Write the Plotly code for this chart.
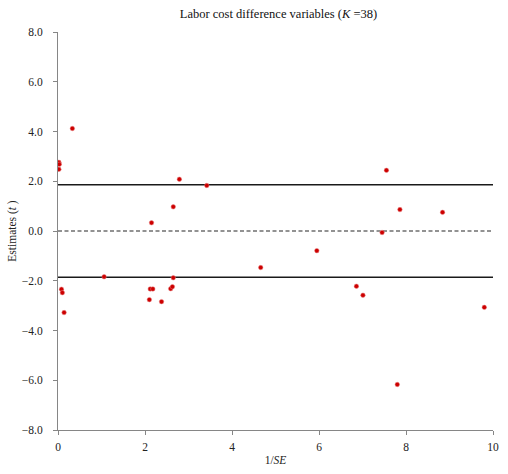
import plotly.graph_objects as go

# Data
inv_se = [0.33, 0.02, 0.03, 0.02, 0.08, 0.10, 0.14,
          2.79, 3.42, 2.65, 2.15, 1.06, 2.65, 2.12, 2.18, 2.59, 2.63, 2.10, 2.38,
          7.55, 7.86, 8.84, 7.45, 5.95, 4.66, 6.86, 7.01, 9.80, 7.80]
estimates = [4.12, 2.76, 2.68, 2.48, -2.34, -2.48, -3.28,
             2.08, 1.83, 0.97, 0.33, -1.84, -1.88, -2.33, -2.33, -2.32, -2.24, -2.76, -2.84,
             2.44, 0.86, 0.75, -0.06, -0.79, -1.47, -2.22, -2.58, -3.07, -6.17]
crit_value = 1.86
x_span = [0, 10]

title_text = "Labor cost difference variables (<i>K </i>=38)"
x_title = "1/<i>SE</i>"
y_title = "Estimates (<i>t </i>)"

font_family = "Liberation Serif, Times New Roman, serif"

fig = go.Figure()
fig.add_trace(go.Scatter(x=x_span, y=[crit_value, crit_value], mode="lines",
                         line=dict(color="#1a1a1a", width=1.5), hoverinfo="skip"))
fig.add_trace(go.Scatter(x=x_span, y=[-crit_value, -crit_value], mode="lines",
                         line=dict(color="#1a1a1a", width=1.5), hoverinfo="skip"))
fig.add_trace(go.Scatter(x=x_span, y=[0, 0], mode="lines",
                         line=dict(color="#6f6f6f", width=1.5, dash="4px,2.5px"), hoverinfo="skip"))
fig.add_trace(go.Scatter(x=inv_se, y=estimates, mode="markers",
                         marker=dict(color="#cc0000", size=4.5,
                                     line=dict(width=0.5, color="#e88080"))))

fig.update_layout(
    width=508, height=474,
    margin=dict(l=58, r=9, t=32, b=42),
    paper_bgcolor="white", plot_bgcolor="white",
    showlegend=False,
    font=dict(family=font_family, size=11.5, color="#222222"),
    title=dict(text=title_text, x=(58 + 499) / 2 / 508, xanchor="center",
               y=1 - 14 / 474, yanchor="middle",
               font=dict(family=font_family, size=12.5, color="#111111")),
    xaxis=dict(range=[0, 10], dtick=2, tick0=0, showgrid=False, zeroline=False,
               showline=True, linecolor="#868686", linewidth=1,
               ticks="outside", ticklen=4, tickcolor="#868686", ticklabelstandoff=2,
               title=dict(text=x_title, standoff=4, font=dict(size=11.5))),
    yaxis=dict(range=[-8, 8], dtick=2, tick0=-8, tickformat=".1f", showgrid=False,
               zeroline=False, showline=True, linecolor="#868686", linewidth=1,
               ticks="outside", ticklen=4, tickcolor="#868686", ticklabelstandoff=8,
               title=dict(text=y_title, standoff=2, font=dict(size=11.5))),
)

fig.write_html("out.html")
